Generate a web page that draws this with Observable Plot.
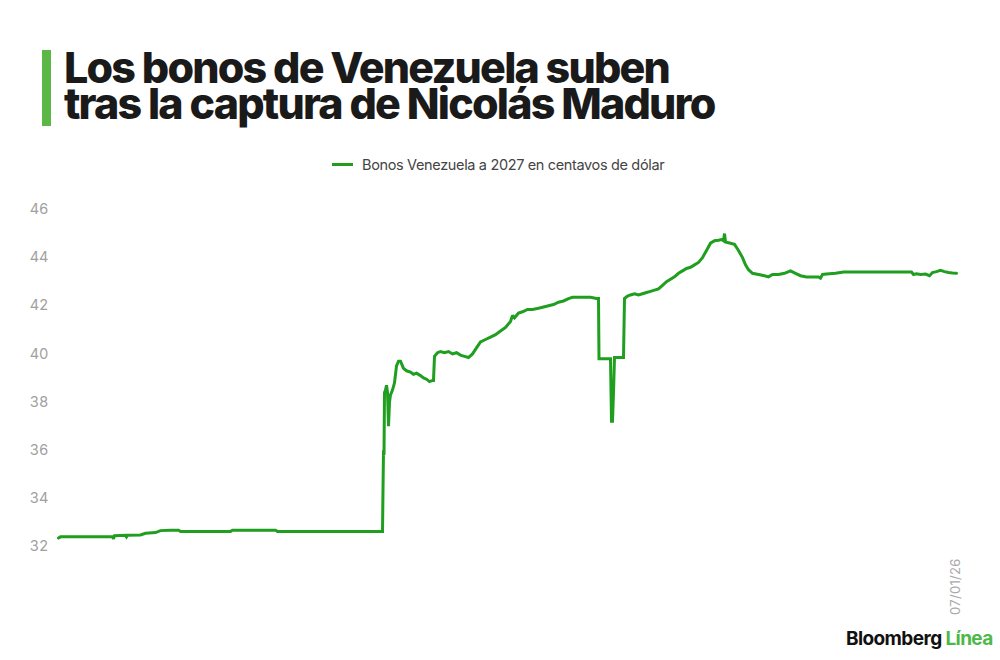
<!DOCTYPE html>
<html>
<head>
<meta charset="utf-8">
<script src="https://cdn.jsdelivr.net/npm/d3@7"></script>
<script src="https://cdn.jsdelivr.net/npm/@observablehq/plot@0.6"></script>
<style>
  body { margin: 0; background: #fff; font-family: Inter, "Noto Sans", sans-serif; }
  #page { position: relative; width: 1000px; height: 660px; overflow: hidden; }
  #titulo { position: absolute; left: 42px; top: 50px; border-left: 9px solid #5cb846; padding-left: 13px;
    font-weight: 800; font-size: 43px; line-height: 36px; letter-spacing: -1.8px; color: #1a1a1a; height: 76px; }
  #titulo div { position: relative; top: -1px; }
  #leyenda { position: absolute; left: 332px; top: 156px; font-size: 14.5px; color: #444; letter-spacing: -0.35px;
    display: flex; align-items: center; }
  #leyenda span.sw { display: inline-block; width: 21px; height: 3px; background: #1f9e1f; margin-right: 9px; }
  #chart { position: absolute; left: 0; top: 190px; }
  #fecha { position: absolute; left: 947px; top: 615px; transform: rotate(-90deg); transform-origin: 0 0;
    font-size: 13px; color: #aaa; letter-spacing: 0.3px; }
  #logo { position: absolute; left: 846px; top: 627px; font-size: 19px; font-weight: 700; letter-spacing: -0.6px; color: #111; }
  #logo span { color: #4cb848; }
</style>
</head>
<body>
<div id="page">
  <div id="titulo"><div>Los bonos de Venezuela suben</div><div>tras la captura de Nicolás Maduro</div></div>
  <div id="leyenda"><span class="sw"></span>Bonos Venezuela a 2027 en centavos de dólar</div>
  <div id="chart"></div>
  <div id="fecha">07/01/26</div>
  <div id="logo">Bloomberg <span>Línea</span></div>
</div>
<script>
// posición relativa en el tiempo (paso de muestreo)
const t = [
  0, 2, 22, 42, 54, 55, 56, 67, 68, 69, 82, 87, 97, 102, 112, 120, 122, 142, 172, 174, 192, 217, 219, 242, 282, 324,
  325, 325.5, 326, 327, 328, 329, 330, 331, 332, 334, 336, 338, 340, 342, 345, 348, 352, 355, 358, 362, 365, 368, 371, 374, 375,
  376, 379, 382, 386, 390, 394, 398, 402, 406, 410, 414, 418, 422, 427, 432, 437, 442, 447, 452, 454, 456, 460, 464, 469, 474,
  480, 485, 490, 495, 500, 505, 510, 514, 522, 532, 538, 540, 540.5, 546, 551, 552, 553, 554, 555, 556, 560, 564, 565,
  566, 569, 572, 576, 580, 584, 588, 592, 596, 600, 604, 608, 612, 616, 620, 624, 628, 632, 636, 640, 644, 648, 652, 656,
  660, 663, 665, 666, 667, 672, 676, 680, 684, 687, 690, 694, 700, 706, 710, 714, 720, 726, 732, 737, 742, 748, 754, 760,
  762, 764, 768, 777, 785, 802, 822, 842, 853, 855, 858, 862, 867, 871, 874, 878, 882, 886, 890, 894, 898
]
const precio = [
  32.35, 32.40, 32.40, 32.40, 32.40, 32.32, 32.45, 32.47, 32.40, 32.47, 32.48, 32.55, 32.58, 32.66, 32.68, 32.68, 32.62, 32.62, 32.62, 32.68, 32.68, 32.68, 32.62, 32.62, 32.62, 32.62,
  36.0, 35.8, 38.4, 38.5, 38.7, 38.4, 37.0, 38.0, 38.3, 38.5, 38.8, 39.5, 39.7, 39.7, 39.4, 39.3, 39.25, 39.15, 39.2, 39.1, 39.0, 38.95, 38.85, 38.9, 38.9,
  39.9, 40.05, 40.1, 40.05, 40.1, 40.0, 40.05, 39.95, 39.9, 39.85, 40.0, 40.25, 40.5, 40.6, 40.7, 40.8, 40.95, 41.1, 41.35, 41.6, 41.5,
  41.7, 41.75, 41.85, 41.85, 41.9, 41.95, 42.0, 42.05, 42.15, 42.2, 42.3, 42.35, 42.35, 42.35, 42.3, 42.3, 39.8, 39.8, 39.8, 39.8, 37.2, 37.2, 38.4, 39.85, 39.85, 39.85, 39.85,
  42.3, 42.4, 42.45, 42.5, 42.45, 42.5, 42.55, 42.6, 42.65, 42.7, 42.85, 43.0, 43.1, 43.2, 43.35, 43.45, 43.55, 43.6, 43.7, 43.8, 44.0, 44.3, 44.6, 44.7,
  44.72, 44.75, 44.7, 45.0, 44.65, 44.6, 44.55, 44.3, 44.0, 43.7, 43.5, 43.35, 43.3, 43.25, 43.2, 43.3, 43.3, 43.35, 43.45, 43.35, 43.25, 43.2, 43.2, 43.2,
  43.15, 43.3, 43.32, 43.35, 43.4, 43.4, 43.4, 43.4, 43.4, 43.3, 43.33, 43.3, 43.32, 43.25, 43.38, 43.42, 43.47, 43.42, 43.38, 43.36, 43.35
]
const yTicks = [32, 34, 36, 38, 40, 42, 44, 46]

const serie = t.map((d, i) => ({t: d, precio: precio[i]}))

const chart = Plot.plot({
  width: 1000,
  height: 470,
  marginLeft: 58,
  marginRight: 44,
  marginTop: 19,
  marginBottom: 114,
  style: {fontFamily: "Inter, 'Noto Sans', sans-serif", fontSize: "14.5px", background: "transparent"},
  x: {domain: d3.extent(t), axis: null},
  y: {domain: [32, 46], ticks: yTicks, label: null},
  marks: [
    Plot.axisY(yTicks, {tickSize: 0, tickPadding: 10, textAnchor: "end", fill: "#a0a0a0", fontSize: 14.5, label: null}),
    Plot.line(serie, {x: "t", y: "precio", stroke: "#1f9e1f", strokeWidth: 3, strokeLinejoin: "miter", strokeMiterlimit: 2})
  ]
})

d3.select('#chart').append(() => chart)
</script>
</body>
</html>
